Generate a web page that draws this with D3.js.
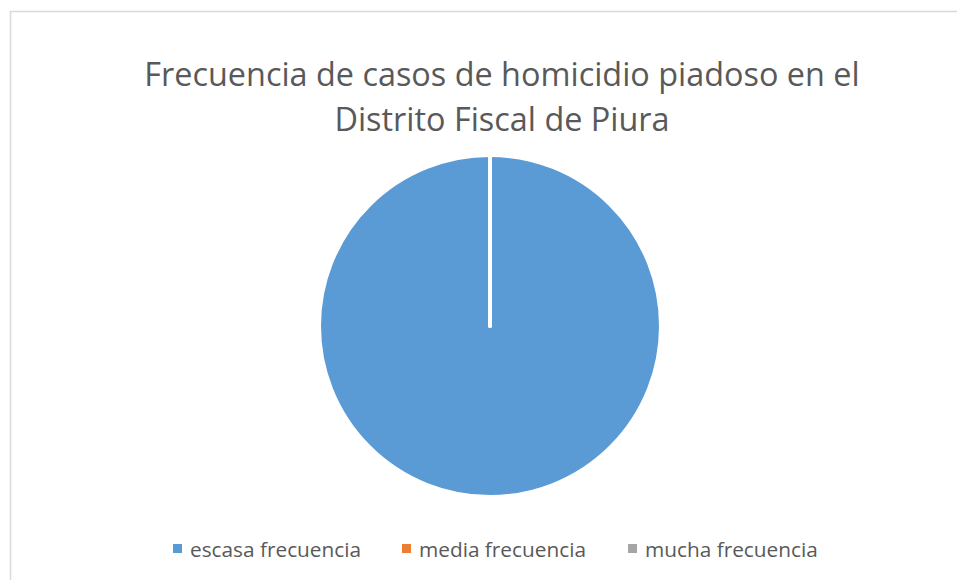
<!DOCTYPE html>
<meta charset="utf-8">
<script src="https://d3js.org/d3.v7.min.js"></script>
<style>
  body { margin: 0; background: #fff; }
</style>
<div id="chart"></div>
<script>
    // data
    const categories = ["escasa frecuencia", "media frecuencia", "mucha frecuencia"];
    const values = [25, 0, 0];
    const colors = ["#5B9BD5", "#ED7D31", "#A5A5A5"];
    const titleLines = ["Frecuencia de casos de homicidio piadoso en el", "Distrito Fiscal de Piura"];

    const width = 957, height = 580;

    const svg = d3.select("#chart")
        .append("svg")
        .attr("width", width)
        .attr("height", height)
        .style("font-family", "'Open Sans', sans-serif");

    // chart area border (cut off at right and bottom)
    svg.append("rect")
        .attr("x", 10.5)
        .attr("y", 11.5)
        .attr("width", 1000)
        .attr("height", 700)
        .attr("fill", "none")
        .attr("stroke", "#D9D9D9")
        .attr("stroke-width", 1.5);

    // title
    svg.append("g")
        .selectAll("text")
        .data(titleLines)
        .join("text")
        .attr("x", 502)
        .attr("y", (d, i) => 86 + i * 45)
        .attr("text-anchor", "middle")
        .attr("font-size", "32.4px")
        .attr("fill", "#595959")
        .text(d => d);

    // pie
    const cx = 490, cy = 326, radius = 171;
    const pie = d3.pie().sort(null).value(d => d);
    const arc = d3.arc().innerRadius(0).outerRadius(radius);

    const g = svg.append("g")
        .attr("transform", `translate(${cx}, ${cy})`);

    g.selectAll("path")
        .data(pie(values))
        .join("path")
        .attr("d", arc)
        .attr("fill", (d, i) => colors[i])
        .attr("stroke", "#fff")
        .attr("stroke-width", 4)
        .attr("stroke-linejoin", "round");

    // legend
    const legendX = [173, 402, 628];
    const legend = svg.append("g")
        .selectAll("g")
        .data(categories)
        .join("g")
        .attr("transform", (d, i) => `translate(${legendX[i]}, 549)`);

    legend.append("rect")
        .attr("x", 0)
        .attr("y", -5)
        .attr("width", 9)
        .attr("height", 9)
        .attr("fill", (d, i) => colors[i]);

    legend.append("text")
        .attr("x", 17)
        .attr("y", 7.5)
        .attr("font-size", "20.8px")
        .attr("fill", "#595959")
        .text(d => d);
</script>
